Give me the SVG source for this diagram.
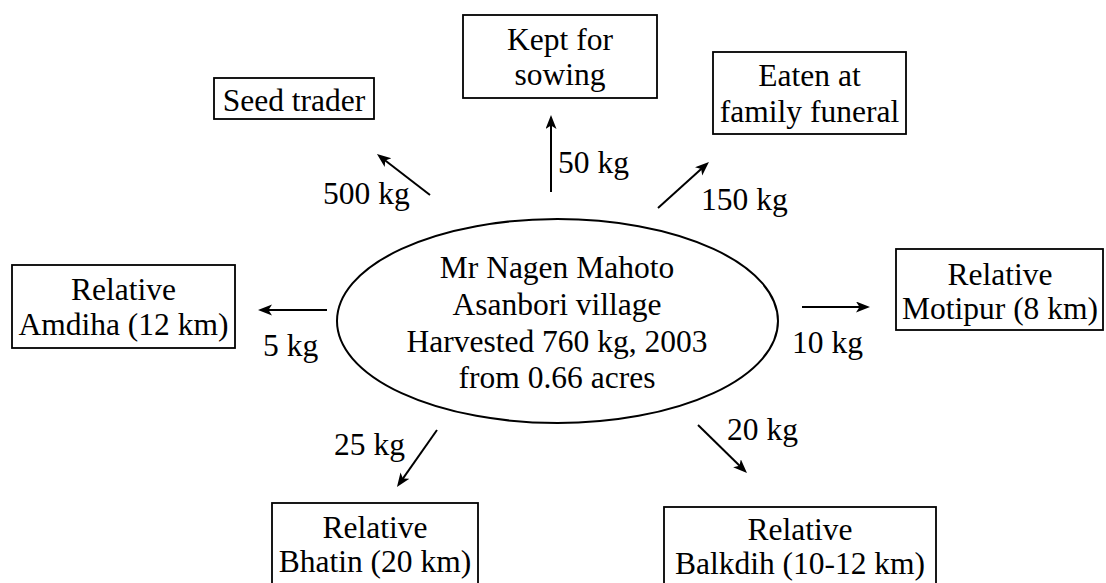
<svg xmlns="http://www.w3.org/2000/svg" width="1106" height="583" viewBox="0 0 1106 583">
<style>
text{font-family:"Liberation Serif","Times New Roman",serif;font-size:31.5px;fill:#000;text-anchor:middle}
.box{fill:#fff;stroke:#000;stroke-width:1.8}
.lbl{text-anchor:start}
.arr{stroke:#000;stroke-width:2;fill:none;marker-end:url(#ah)}
</style>
<defs>
<marker id="ah" markerUnits="userSpaceOnUse" markerWidth="16" markerHeight="12" refX="8" refY="5.5" orient="auto" viewBox="0 0 16 12">
<path d="M0,0 L14,5.5 L0,11 L3.5,5.5 z" fill="#000"/>
</marker>
</defs>
<rect width="1106" height="583" fill="#fff"/>
<g id="center">
<ellipse cx="557.5" cy="321" rx="220.5" ry="102" fill="#fff" stroke="#000" stroke-width="2"/>
<text x="557" y="278">Mr Nagen Mahoto</text>
<text x="557" y="315">Asanbori village</text>
<text x="557" y="352">Harvested 760 kg, 2003</text>
<text x="557" y="388">from 0.66 acres</text>
</g>
<g id="seed-trader">
<rect class="box" x="214" y="78" width="160" height="41"/>
<text x="294" y="111">Seed trader</text>
</g>
<g id="kept-sowing">
<rect class="box" x="463" y="15" width="194" height="83"/>
<text x="560" y="50">Kept for</text>
<text x="560" y="85">sowing</text>
</g>
<g id="funeral">
<rect class="box" x="713" y="52" width="193" height="82"/>
<text x="809.5" y="86">Eaten at</text>
<text x="809.5" y="122">family funeral</text>
</g>
<g id="amdiha">
<rect class="box" x="12" y="265" width="223" height="83"/>
<text x="123.5" y="300">Relative</text>
<text x="123.5" y="335">Amdiha (12 km)</text>
</g>
<g id="motipur">
<rect class="box" x="896" y="249" width="207" height="81"/>
<text x="1000" y="285">Relative</text>
<text x="1000" y="319">Motipur (8 km)</text>
</g>
<g id="bhatin">
<rect class="box" x="272" y="503" width="206" height="95"/>
<text x="375" y="538">Relative</text>
<text x="375" y="572">Bhatin (20 km)</text>
</g>
<g id="balkdih">
<rect class="box" x="664" y="507" width="272" height="95"/>
<text x="800" y="540">Relative</text>
<text x="800" y="574">Balkdih (10-12 km)</text>
</g>
<g id="connectors">
<line class="arr" x1="430" y1="195" x2="381.7" y2="157.7"/>
<line class="arr" x1="551" y1="192" x2="551" y2="121"/>
<line class="arr" x1="658" y1="208" x2="704.5" y2="166"/>
<line class="arr" x1="327" y1="310" x2="264" y2="310"/>
<line class="arr" x1="802" y1="307" x2="864" y2="307"/>
<line class="arr" x1="437" y1="430" x2="400.4" y2="482.1"/>
<line class="arr" x1="698" y1="425" x2="742.7" y2="468.8"/>
<text class="lbl" x="323" y="204">500 kg</text>
<text class="lbl" x="558" y="173">50 kg</text>
<text class="lbl" x="701" y="210">150 kg</text>
<text class="lbl" x="263" y="356">5 kg</text>
<text class="lbl" x="792" y="353">10 kg</text>
<text class="lbl" x="334" y="455">25 kg</text>
<text class="lbl" x="727" y="440">20 kg</text>
</g>
</svg>
